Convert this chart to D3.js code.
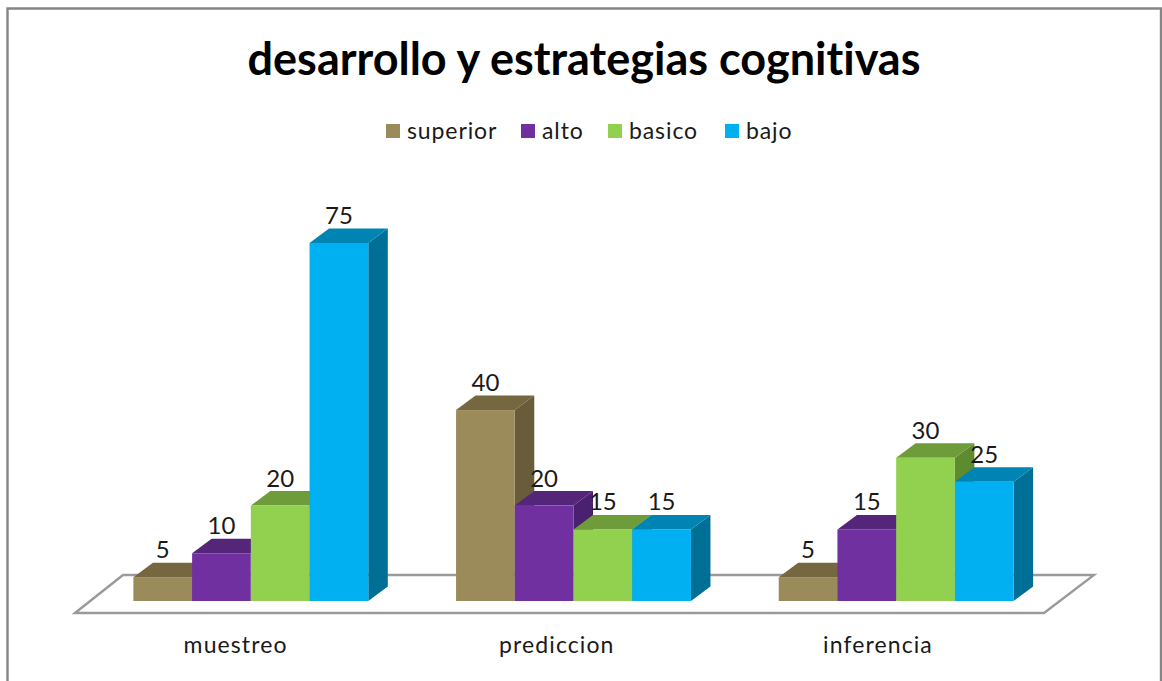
<!DOCTYPE html>
<html><head><meta charset="utf-8">
<script src="https://cdn.jsdelivr.net/npm/d3@7"></script>
<style>html,body{margin:0;padding:0;background:#fff}svg{display:block}text{font-family:Lato,"Open Sans",sans-serif;fill:#1a1a1a;font-variant-ligatures:none}</style>
</head><body><svg id="c" width="1162" height="681"></svg>
<script>
const categories = ["muestreo","prediccion","inferencia"];
const seriesNames = ["superior","alto","basico","bajo"];
const superior = [5,40,5];
const alto = [10,20,15];
const basico = [20,15,30];
const bajo = [75,15,25];
const seriesValues = [superior,alto,basico,bajo];
const faceColors = ["#9C8B5A","#7030A0","#92D050","#00B0F0"];
const topColors = ["#756840","#55257A","#6E9C3A","#0084B4"];
const sideColors = ["#685C3A","#4A2070","#5E8A30","#006F96"];
const titleText = "desarrollo y estrategias cognitivas";

const svg = d3.select("#c");
// frame
svg.append("path").attr("d","M7.5,681V8.5H1161V681").attr("fill","none").attr("stroke","#858585").attr("stroke-width",2.4);

svg.append("text").attr("x",584).attr("y",75).attr("text-anchor","middle")
  .attr("font-size",45).attr("font-weight",700).style("fill","#000").text(titleText);

// legend
const legendSwatchX = [386,521,608,725];
seriesNames.forEach((n,i)=>{
  svg.append("rect").attr("x",legendSwatchX[i]).attr("y",124).attr("width",14).attr("height",14).attr("fill",faceColors[i]);
  svg.append("text").attr("x",legendSwatchX[i]+21).attr("y",139).attr("font-size",23).attr("letter-spacing",0.9).text(n);
});

// scales
const x0 = d3.scaleBand().domain(categories).range([75,1043]).paddingInner(0.272).paddingOuter(0.136);
const x1 = d3.scaleBand().domain(seriesNames).range([0,x0.bandwidth()]);
const xLabel = d3.scaleBand().domain(categories).range([75,1038.6]);
const y = d3.scaleLinear().domain([0,75]).range([601,243]);
const depthX = 19.5, depthY = 14.5, floorShift = 14.5;

// floor
svg.append("path").attr("d","M75,613L123,575H1094L1044,613Z").attr("fill","#fff").attr("stroke","#9a9a9a").attr("stroke-width",2.4);

// bars
categories.forEach((c,ci)=>{
  seriesNames.forEach((s,si)=>{
    const v = seriesValues[si][ci];
    const l = x0(c)+floorShift+x1(s), r = l+x1.bandwidth(), t = y(v), b = y(0);
    const g = svg.append("g");
    g.append("path").attr("fill",sideColors[si]).attr("d",`M${r},${t}L${r+depthX},${t-depthY}V${b-depthY}L${r},${b}Z`);
    g.append("path").attr("fill",topColors[si]).attr("d",`M${l},${t}L${l+depthX},${t-depthY}H${r+depthX}L${r},${t}Z`);
    g.append("rect").attr("x",l).attr("y",t).attr("width",r-l).attr("height",b-t).attr("fill",faceColors[si]);
  });
});
// labels
categories.forEach((c,ci)=>{
  seriesNames.forEach((s,si)=>{
    const v = seriesValues[si][ci];
    svg.append("text").attr("x",x0(c)+floorShift+x1(s)+x1.bandwidth()/2).attr("y",y(v)-19)
      .attr("text-anchor","middle").attr("font-size",24).text(v);
  });
});

// category axis
const ax = svg.append("g").attr("transform","translate(0,613)").call(d3.axisBottom(xLabel).tickSize(0).tickPadding(24));
ax.select(".domain").remove();
ax.selectAll("text").attr("font-size",23).attr("letter-spacing",1.1).style("font-family","Lato").style("fill","#1a1a1a");
</script></body></html>
